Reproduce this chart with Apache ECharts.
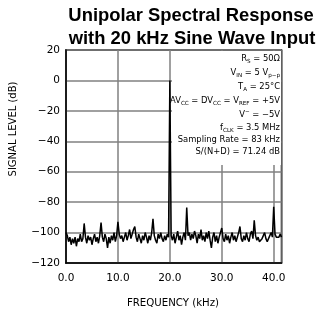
<!DOCTYPE html>
<html>
<head>
<meta charset="utf-8">
<script src="https://cdn.jsdelivr.net/npm/echarts@6/dist/echarts.min.js"></script>
<style>html,body{margin:0;padding:0;background:#fff}#c{width:318px;height:316px}</style>
</head>
<body>
<div id="c"></div>
<script>
// Spectrum sampled every 0.25 kHz from 0 to 41.5 kHz (dB)
var freqStep = 0.25;
var levelDb = [
  -100,-102,-106,-103,
  -108,-104,-107,-103,
  -109,-104,-106,-101,
  -106,-104,-94,-103,
  -107,-102,-105,-103,
  -108,-104,-101,-106,
  -103,-107,-102,-93.5,
  -103,-106,-101,-104,
  -110,-103,-107,-102,
  -105,-100,-106,-102,
  -93,-101,-104,-102,
  -106,-103,-100,-105,
  -102,-98,-104,-101,
  -98,-96,-103,-106,
  -101,-104,-107,-102,
  -105,-100,-103,-107,
  -102,-105,-100,-91,
  -102,-105,-107,-101,
  -104,-100,-104,-106,
  -102,-105,-101,-103,
  0,-102,-105,-101,
  -107,-103,-99,-105,
  -102,-108,-103,-100,
  -105,-83.5,-102,-100,
  -105,-101,-104,-99,
  -102,-107,-101,-104,
  -98,-105,-102,-106,
  -100,-104,-99,-105,
  -110,-103,-100,-106,
  -102,-107,-103,-100,
  -97,-104,-106,-101,
  -105,-102,-107,-103,
  -100,-105,-102,-106,
  -103,-100,-96,-104,
  -106,-102,-105,-100,
  -104,-106,-101,-99,
  -104,-92,-102,-105,
  -103,-106,-107,-104,
  -102,-100,-104,-106,
  -104,-102,-100,-103,
  -83,-101,-103,-102,
  -103,-101,-103
];
var titleLines = ['Unipolar Spectral Response', 'with 20 kHz Sine Wave Input'];
var xAxisName = 'FREQUENCY (kHz)';
var yAxisName = 'SIGNAL LEVEL (dB)';
var xRange = [0, 41.5];
var yRange = [-120, 20];
var conditionLines = [
  'R{sub|S} = 50\u03A9',
  'V{sub|IN} = 5 V{sub|p\u2212p}',
  'T{sub|A} = 25\u00B0C',
  'AV{sub|CC} = DV{sub|CC} = V{sub|REF} = +5V',
  'V{sup|\u2212} = \u22125V',
  'f{sub|CLK} = 3.5 MHz',
  'Sampling Rate = 83 kHz',
  'S/(N+D) = 71.24 dB'
];

var seriesData = levelDb.map(function (v, i) { return [i * freqStep, v]; });

var chart = echarts.init(document.getElementById('c'), null, {renderer: 'canvas'});
var lineYs = [58.5, 72.5, 86.5, 101, 114.5, 127.5, 139.5, 152];
var graphics = [
  {type: 'rect', z: 1, shape: {x: 172, y: 51, width: 109, height: 114}, style: {fill: '#fff'}, silent: true},
  {type: 'text', z: 5, x: 191, y: 16,
   style: {text: titleLines[0], font: 'bold 18.4px "Liberation Sans", Arial, sans-serif', fill: '#000', align: 'center', verticalAlign: 'middle'}},
  {type: 'text', z: 5, x: 192, y: 39,
   style: {text: titleLines[1], font: 'bold 18.4px "Liberation Sans", Arial, sans-serif', fill: '#000', align: 'center', verticalAlign: 'middle'}},
  {type: 'text', z: 5, x: 13, y: 129, rotation: Math.PI / 2,
   style: {text: yAxisName, font: '10px "DejaVu Sans"', fill: '#000', align: 'center', verticalAlign: 'middle'}},
  {type: 'text', z: 5, x: 173, y: 303,
   style: {text: xAxisName, font: '10.2px "DejaVu Sans"', fill: '#000', align: 'center', verticalAlign: 'middle'}}
];
conditionLines.forEach(function (t, i) {
  graphics.push({
    type: 'text', z: 5, x: 280, y: lineYs[i],
    style: {
      text: t, fontFamily: 'DejaVu Sans', fontSize: 8.4, fill: '#000',
      align: 'right', verticalAlign: 'middle',
      rich: {
        sub: {fontFamily: 'DejaVu Sans', fontSize: 5.6, fill: '#000', padding: [6, 0, 0, 0]},
        sup: {fontFamily: 'DejaVu Sans', fontSize: 5.6, fill: '#000', padding: [0, 0, 6, 0]}
      }
    }
  });
});

chart.setOption({
  animation: false,
  backgroundColor: '#fff',
  grid: {left: 66, right: 36.5, top: 50, bottom: 53, show: true, borderColor: '#000', borderWidth: 1.5, backgroundColor: 'transparent'},
  xAxis: {
    type: 'value', min: xRange[0], max: xRange[1], interval: 10,
    axisLine: {show: true, onZero: false, lineStyle: {color: '#000', width: 1.5}},
    axisTick: {show: false},
    splitLine: {show: true, lineStyle: {color: '#808080', width: 1.5}},
    axisLabel: {margin: 10, fontFamily: 'DejaVu Sans', fontSize: 10.5, color: '#000',
      formatter: function (v) { return v.toFixed(1); }}
  },
  yAxis: {
    type: 'value', min: yRange[0], max: yRange[1], interval: 20,
    axisLine: {show: true, onZero: false, lineStyle: {color: '#000', width: 1.5}},
    axisTick: {show: false},
    splitLine: {show: true, lineStyle: {color: '#808080', width: 1.5}},
    axisLabel: {margin: 6, fontFamily: 'DejaVu Sans', fontSize: 10.5, color: '#000',
      formatter: function (v) { return String(v).replace('-', '\u2212'); }}
  },
  graphic: graphics,
  series: [{
    type: 'line', data: seriesData, symbol: 'none', z: 3,
    lineStyle: {color: '#000', width: 1.5},
    clip: true
  }]
});
</script>
</body>
</html>
